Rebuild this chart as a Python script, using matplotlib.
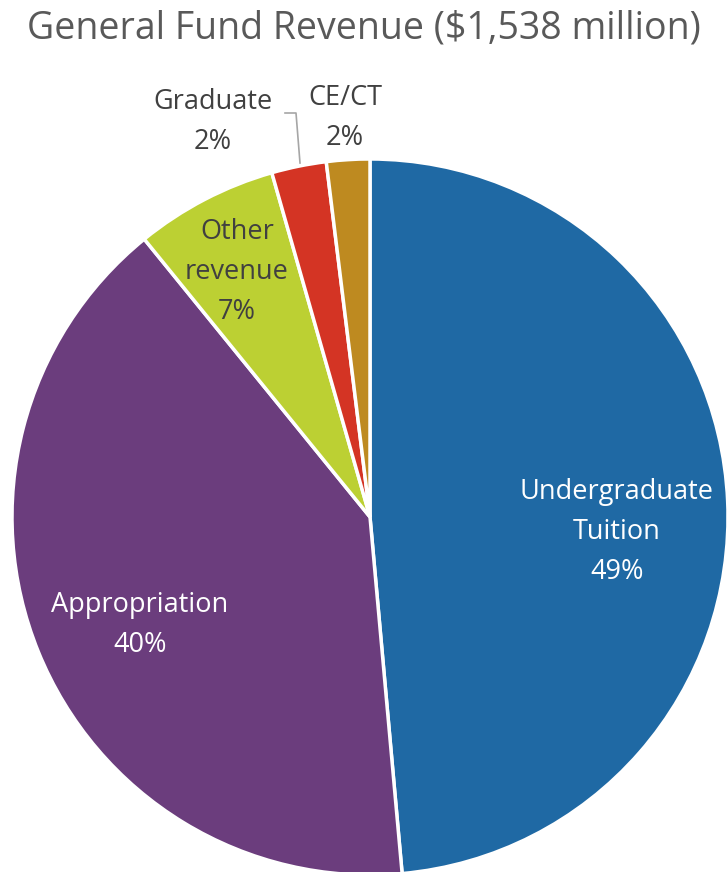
import matplotlib.pyplot as plt

# data ($ million)
labels = ["Undergraduate\nTuition", "Appropriation", "Other\nrevenue", "Graduate", "CE/CT"]
values = [747, 624, 99, 38, 30]
pcts = ["49%", "40%", "7%", "2%", "2%"]
colors = ["#1F69A4", "#6B3D7D", "#BCD033", "#D43424", "#BE8A20"]

plt.rcParams['font.family'] = ['Open Sans', 'DejaVu Sans']

fig = plt.figure(figsize=(7.28, 8.72), dpi=100)
ax = fig.add_axes([0, 0, 1, 1])

cx, cy, r = 370, 872 - 517, 358
ax.pie(values, colors=colors, startangle=90, counterclock=False,
       center=(cx, cy), radius=r, frame=True,
       wedgeprops=dict(edgecolor='white', linewidth=2.5))
ax.set_xlim(0, 728)
ax.set_ylim(0, 872)
ax.set_aspect('equal')
ax.axis('off')

fig.text(0.5, 1 - 28 / 872, "General Fund Revenue ($1,538 million)",
         ha='center', va='center', fontsize=27, color='#595959')

lab_pos = [(617, 532), (140, 625), (237, 272), (213, 122), (345, 118)]
txt_col = ['white', 'white', '#404040', '#404040', '#404040']
for lab, p, (x, y), c in zip(labels, pcts, lab_pos, txt_col):
    ax.text(x, 872 - y, lab + "\n" + p, ha='center', va='center',
            fontsize=19.5, color=c, linespacing=1.55)

# leader line for Graduate
ax.plot([285, 296, 300], [872 - 113, 872 - 113, 872 - 163], color='#A6A6A6', lw=1.2)

fig.savefig("out.png", dpi=100)
